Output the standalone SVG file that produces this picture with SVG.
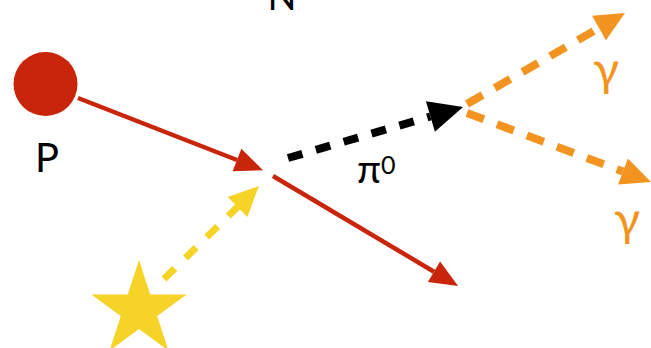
<svg xmlns="http://www.w3.org/2000/svg" width="651" height="348" viewBox="0 0 651 348">
<style>
.lbl{font-family:Lato,"Liberation Sans",sans-serif;fill:#000}
.g{fill:#F39320}
.red{stroke:#C8250A;stroke-width:4.5;fill:none}
.blk{stroke:#000;stroke-width:8;fill:none;stroke-dasharray:15 14}
.org{stroke:#F39320;stroke-width:8;fill:none;stroke-dasharray:18 14}
.yel{stroke:#F5D327;stroke-width:7;fill:none;stroke-dasharray:15 15}
</style>
<defs>
<marker id="aR" markerUnits="userSpaceOnUse" markerWidth="30" markerHeight="28" refX="0" refY="12" orient="auto" overflow="visible"><path d="M0,0 L28,12 L0,24 z" fill="#C8250A"/></marker>
<marker id="aK" markerUnits="userSpaceOnUse" markerWidth="36" markerHeight="34" refX="0" refY="16" orient="auto" overflow="visible"><path d="M0,0 L34,16 L0,32 z" fill="#000"/></marker>
<marker id="aO" markerUnits="userSpaceOnUse" markerWidth="32" markerHeight="30" refX="0" refY="14" orient="auto" overflow="visible"><path d="M0,0 L30,14 L0,28 z" fill="#F39320"/></marker>
<marker id="aY" markerUnits="userSpaceOnUse" markerWidth="32" markerHeight="30" refX="0" refY="14" orient="auto" overflow="visible"><path d="M0,0 L30,14 L0,28 z" fill="#F5D327"/></marker>
</defs>
<rect width="651" height="348" fill="#fff"/>
<g id="proton">
<circle cx="45.5" cy="84" r="32" fill="#C8250A"/>
<text class="lbl" x="47" y="172" font-size="40" text-anchor="middle">P</text>
</g>
<g id="nucleus">
<text class="lbl" x="282" y="10" font-size="38" text-anchor="middle">N</text>
</g>
<g id="star">
<polygon fill="#F5D327" points="139,260 150.2,294.5 186.6,294.5 157.2,315.9 168.4,350.5 139,329.1 109.6,350.5 120.8,315.9 91.4,294.5 127.8,294.5"/>
</g>
<g id="pion">
<text class="lbl" x="357" y="183" font-size="39">π<tspan font-size="25" dy="-9">0</tspan></text>
</g>
<g id="gamma1">
<text class="lbl g" x="606" y="86" font-size="48" text-anchor="middle">γ</text>
</g>
<g id="gamma2">
<text class="lbl g" x="627" y="236" font-size="48" text-anchor="middle">γ</text>
</g>
<g id="connectors">
<line class="red" x1="78" y1="98" x2="237" y2="160" marker-end="url(#aR)"/>
<line class="red" x1="273" y1="176" x2="434" y2="271.7" marker-end="url(#aR)"/>
<line class="blk" x1="288" y1="158" x2="430.4" y2="116.5" marker-end="url(#aK)"/>
<line class="org" x1="467" y1="104" x2="599" y2="28" marker-end="url(#aO)"/>
<line class="org" x1="467" y1="113" x2="623" y2="171.5" marker-end="url(#aO)"/>
<line class="yel" x1="164" y1="279" x2="237.5" y2="207" marker-end="url(#aY)"/>
</g>
</svg>
